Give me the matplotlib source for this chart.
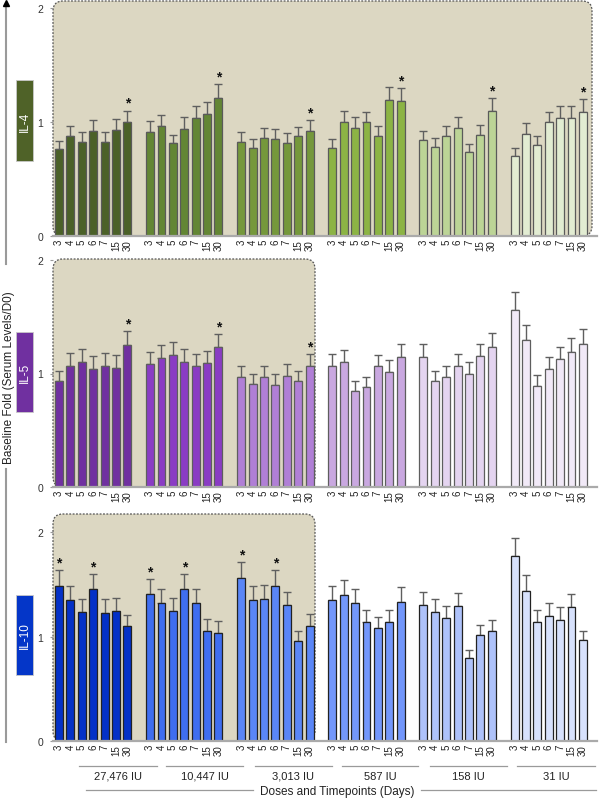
import matplotlib
matplotlib.use("Agg")
import matplotlib.pyplot as plt
from matplotlib.patches import FancyBboxPatch, Rectangle
from matplotlib.lines import Line2D
import numpy as np

plt.rcParams['font.family'] = ['Liberation Sans', 'DejaVu Sans']

# ---------------- data ----------------
days = ["3", "4", "5", "6", "7", "15", "30"]
doses = ["27,476 IU", "10,447 IU", "3,013 IU", "587 IU", "158 IU", "31 IU"]

il4_means = [
    [0.76, 0.88, 0.825, 0.92, 0.825, 0.93, 1.00],
    [0.91, 0.965, 0.82, 0.94, 1.035, 1.07, 1.21],
    [0.825, 0.77, 0.86, 0.85, 0.82, 0.88, 0.925],
    [0.77, 1.00, 0.95, 1.00, 0.88, 1.19, 1.18],
    [0.84, 0.78, 0.88, 0.95, 0.74, 0.885, 1.10],
    [0.70, 0.895, 0.80, 1.00, 1.035, 1.035, 1.09],
]
il4_sem = [
    [0.07, 0.085, 0.085, 0.10, 0.085, 0.10, 0.10],
    [0.095, 0.095, 0.07, 0.10, 0.105, 0.105, 0.12],
    [0.085, 0.08, 0.09, 0.085, 0.08, 0.08, 0.095],
    [0.08, 0.10, 0.095, 0.09, 0.085, 0.12, 0.12],
    [0.085, 0.077, 0.085, 0.095, 0.07, 0.09, 0.11],
    [0.07, 0.095, 0.08, 0.09, 0.105, 0.105, 0.11],
]
il4_stars = [(0, 6), (1, 6), (2, 6), (3, 6), (4, 6), (5, 6)]

il5_means = [
    [0.93, 1.07, 1.10, 1.04, 1.07, 1.05, 1.25],
    [1.08, 1.14, 1.16, 1.105, 1.063, 1.095, 1.23],
    [0.966, 0.91, 0.966, 0.90, 0.98, 0.93, 1.066],
    [1.066, 1.10, 0.843, 0.878, 1.063, 1.013, 1.148],
    [1.145, 0.937, 0.966, 1.063, 1.00, 1.15, 1.23],
    [1.56, 1.297, 0.893, 1.042, 1.124, 1.19, 1.262],
]
il5_sem = [
    [0.09, 0.11, 0.115, 0.11, 0.11, 0.11, 0.125],
    [0.106, 0.11, 0.12, 0.115, 0.107, 0.105, 0.12],
    [0.097, 0.089, 0.097, 0.093, 0.10, 0.09, 0.104],
    [0.108, 0.11, 0.087, 0.088, 0.102, 0.103, 0.114],
    [0.115, 0.088, 0.097, 0.107, 0.10, 0.112, 0.123],
    [0.16, 0.129, 0.091, 0.106, 0.112, 0.119, 0.126],
]
il5_stars = [(0, 6), (1, 6), (2, 6)]

il10_means = [
    [1.48, 1.35, 1.233, 1.45, 1.227, 1.243, 1.10],
    [1.406, 1.323, 1.243, 1.45, 1.32, 1.054, 1.038],
    [1.556, 1.35, 1.358, 1.48, 1.30, 0.958, 1.105],
    [1.35, 1.40, 1.323, 1.137, 1.08, 1.137, 1.332],
    [1.297, 1.233, 1.173, 1.29, 0.796, 1.01, 1.051],
    [1.77, 1.44, 1.137, 1.20, 1.16, 1.278, 0.962],
]
il10_sem = [
    [0.153, 0.132, 0.128, 0.144, 0.128, 0.127, 0.104],
    [0.14, 0.134, 0.127, 0.147, 0.137, 0.112, 0.106],
    [0.156, 0.132, 0.137, 0.153, 0.13, 0.099, 0.109],
    [0.132, 0.14, 0.134, 0.119, 0.11, 0.115, 0.138],
    [0.128, 0.125, 0.115, 0.129, 0.079, 0.099, 0.109],
    [0.176, 0.145, 0.113, 0.123, 0.118, 0.125, 0.095],
]
il10_stars = [(0, 0), (0, 3), (1, 0), (1, 3), (2, 0), (2, 3)]

# ---------------- styles ----------------
il4_colors = ['#4b6128', '#638634', '#75983b', '#8cb444', '#bcd496', '#e2ecd2']
il5_colors = ['#7030a0', '#8a3cc4', '#b07fd6', '#c9a8e0', '#e4d4f0', '#f1e9f7']
il10_colors = ['#0431c7', '#3f6ef0', '#5a86f7', '#7397fb', '#aec2fa', '#d7e1fc']
beige = '#dcd7c2'

W, H = 600, 803
fig = plt.figure(figsize=(W / 100, H / 100), dpi=100)

def fx(x):
    return x / W

def fy(y):
    return 1 - y / H

X_LEFT, X_RIGHT = 53, 597
x0_data = -0.527
x1_data = 47.24

panels = [
    ("IL-4", il4_means, il4_sem, il4_stars, il4_colors, '#5a5a5a', 237, 2, 9, 592, (81, 162), '#4f6228'),
    ("IL-5", il5_means, il5_sem, il5_stars, il5_colors, '#5e5e5e', 488, 260, 261, 315, (333, 413), '#7030a0'),
    ("IL-10", il10_means, il10_sem, il10_stars, il10_colors, '#222222', 742, 515, 533, 315, (596, 676), '#0436c8'),
]

for (name, means, sem, stars, colors, edge, y0px, ytoppx, y2px, boxr, lab, labcol) in panels:
    ax = fig.add_axes([fx(X_LEFT), fy(y0px), (X_RIGHT - X_LEFT) / W, (y0px - ytoppx) / H])
    ytop = 2 * (y0px - ytoppx) / (y0px - y2px)
    ax.set_xlim(x0_data, x1_data)
    ax.set_ylim(0, ytop)
    ax.patch.set_alpha(0)

    bw = (boxr - X_LEFT) / (X_RIGHT - X_LEFT)
    axw = X_RIGHT - X_LEFT
    axh = y0px - ytoppx
    box = FancyBboxPatch((0, 0), bw, 1.0,
                         boxstyle="round,pad=0,rounding_size=0.018",
                         mutation_aspect=axw / axh,
                         transform=ax.transAxes, facecolor=beige,
                         edgecolor='#555555', linewidth=0.9,
                         linestyle=(0, (1.5, 1.2)), zorder=0, clip_on=False)
    ax.add_patch(box)

    ticks = []
    ticklabels = []
    for g in range(6):
        pos = np.array([8 * g + i for i in range(7)], dtype=float)
        vals = np.array(means[g])
        errs = np.array(sem[g])
        ax.bar(pos, vals, width=0.7, color=colors[g], edgecolor=edge,
               linewidth=0.9, zorder=3)
        ax.errorbar(pos, vals, yerr=[np.zeros(7), errs], fmt='none',
                    ecolor='#5f5f5f', elinewidth=1.0, capsize=3, capthick=1.0,
                    zorder=2)
        ticks.extend(pos)
        ticklabels.extend(days)

    for (g, i) in stars:
        p = 8 * g + i
        top = means[g][i] + sem[g][i]
        ax.annotate('*', (p, top), xytext=(0, 0.5), textcoords='offset points',
                    ha='center', va='bottom', fontsize=10, color='#111111',
                    fontweight='bold', zorder=5)

    ax.set_xticks(ticks)
    ax.set_xticklabels(ticklabels, rotation=90, fontsize=7, color='#222222')
    ax.tick_params(axis='x', length=0, pad=2)
    ax.set_yticks([0, 1, 2])
    ax.set_yticklabels(['0', '1', '2'], fontsize=7.5, color='#333333')
    ax.tick_params(axis='y', length=2, color='#999999', pad=5)
    for s in ['top', 'right', 'left']:
        ax.spines[s].set_visible(False)
    ax.spines['bottom'].set_color('#aaaaaa')
    ax.spines['bottom'].set_linewidth(1.6)
    ax.spines['bottom'].set_zorder(4)

    ltop, lbot = lab
    r = Rectangle((fx(16), fy(lbot)), fx(33) - fx(16), (lbot - ltop) / H,
                  transform=fig.transFigure, facecolor=labcol,
                  edgecolor='#c8c8c8', linewidth=0.6)
    fig.add_artist(r)
    fig.text(fx(24.5), fy((ltop + lbot) / 2), name, rotation=90,
             ha='center', va='center', color='white', fontsize=8.5)

fig.add_artist(Line2D([fx(6), fx(6)], [fy(470), fy(743)], color='#9a9a9a',
                      linewidth=1.5, transform=fig.transFigure))
fig.add_artist(Line2D([fx(6), fx(6)], [fy(265), fy(6)], color='#9a9a9a',
                      linewidth=1.5, transform=fig.transFigure))
fig.add_artist(Line2D([fx(6)], [fy(4)], marker='^', markersize=5,
                      color='black', transform=fig.transFigure))
fig.text(fx(9), fy(378), "Baseline Fold (Serum Levels/D0)", rotation=90,
         ha='center', va='center', fontsize=8.5, color='#222222')

dose_lines = [(79, 157), (166, 243), (255, 332), (342, 418), (430, 507), (517, 595)]
for (a, b), lab in zip(dose_lines, doses):
    fig.add_artist(Line2D([fx(a), fx(b)], [fy(767), fy(767)], color='#9a9a9a',
                          linewidth=0.9, transform=fig.transFigure))
    fig.text(fx((a + b) / 2), fy(777), lab, ha='center', va='center',
             fontsize=8, color='#222222')

fig.add_artist(Line2D([fx(86), fx(253)], [fy(791), fy(791)], color='#9a9a9a',
                      linewidth=0.9, transform=fig.transFigure))
fig.add_artist(Line2D([fx(421), fx(596)], [fy(791), fy(791)], color='#9a9a9a',
                      linewidth=0.9, transform=fig.transFigure))
fig.text(fx(337), fy(792), "Doses and Timepoints (Days)", ha='center',
         va='center', fontsize=8.5, color='#222222')

fig.savefig("out.png", dpi=100)
